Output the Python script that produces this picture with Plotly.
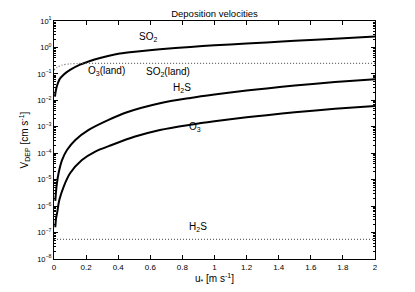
import plotly.graph_objects as go

# u* [m s^-1] and deposition velocities [cm s^-1]
u_so2 = [0.006, 0.01, 0.017, 0.025, 0.037, 0.058, 0.1, 0.162, 0.22, 0.287, 0.41, 0.52,
         0.66, 0.85, 1.0, 1.2, 1.325, 1.5, 1.75, 2.0]
v_so2 = [0.0138, 0.0209, 0.0324, 0.0457, 0.0661, 0.0912, 0.141, 0.224, 0.302, 0.398,
         0.589, 0.708, 0.851, 1.05, 1.20, 1.41, 1.55, 1.78, 2.14, 2.57]

u_h2s = [0.008, 0.013, 0.019, 0.029, 0.05, 0.081, 0.133, 0.216, 0.34, 0.45, 0.66, 0.85,
         1.0, 1.2, 1.325, 1.5, 1.75, 2.0]
v_h2s = [1.58e-6, 3.80e-6, 7.94e-6, 1.82e-5, 5.50e-5, 1.32e-4, 3.16e-4, 7.59e-4, 1.82e-3,
         3.47e-3, 7.76e-3, 1.23e-2, 1.66e-2, 2.34e-2, 2.82e-2, 3.63e-2, 4.90e-2, 6.31e-2]

u_o3 = [0.008, 0.013, 0.019, 0.033, 0.06, 0.1, 0.174, 0.257, 0.36, 0.5, 0.66, 0.85,
        1.0, 1.2, 1.325, 1.5, 1.75, 2.0]
v_o3 = [1.58e-7, 3.55e-7, 5.37e-7, 1.70e-6, 5.37e-6, 1.74e-5, 5.50e-5, 1.15e-4, 2.04e-4,
        4.17e-4, 7.59e-4, 1.20e-3, 1.62e-3, 2.29e-3, 2.75e-3, 3.55e-3, 4.79e-3, 6.17e-3]

u_o3_land = [0.0, 0.02, 0.05, 0.1, 0.15, 0.2]
v_o3_land = [0.141, 0.178, 0.214, 0.240, 0.248, 0.251]

u_so2_land = [0.2, 2.0]
v_so2_land = [0.251, 0.251]

u_h2s_land = [0.0, 2.0]
v_h2s_land = [5.5e-8, 5.5e-8]

x_ticks = [0, 0.2, 0.4, 0.6, 0.8, 1, 1.2, 1.4, 1.6, 1.8, 2]
x_ticklabels = ["0", "0.2", "0.4", "0.6", "0.8", "1", "1.2", "1.4", "1.6", "1.8", "2"]
y_ticks = [1e1, 1e0, 1e-1, 1e-2, 1e-3, 1e-4, 1e-5, 1e-6, 1e-7, 1e-8]
y_ticklabels = ["10<sup>1</sup>", "10<sup>0</sup>", "10<sup>−1</sup>", "10<sup>−2</sup>",
                "10<sup>−3</sup>", "10<sup>−4</sup>", "10<sup>−5</sup>", "10<sup>−6</sup>",
                "10<sup>−7</sup>", "10<sup>−8</sup>"]

labels = [
    ("SO<sub>2</sub>", 0.586, 0.395),
    ("O<sub>3</sub>(land)", 0.33, -0.89),
    ("SO<sub>2</sub>(land)", 0.71, -0.93),
    ("H<sub>2</sub>S", 0.80, -1.53),
    ("O<sub>3</sub>", 0.88, -3.01),
    ("H<sub>2</sub>S", 0.90, -6.79),
]

FONT = "Liberation Sans, Arial, sans-serif"
solid = dict(color="black", width=2)
dotted = dict(color="#666666", width=1.2, dash="1px,2px")

fig = go.Figure()
for x, y in [(u_so2, v_so2), (u_h2s, v_h2s), (u_o3, v_o3)]:
    fig.add_trace(go.Scatter(x=x, y=y, mode="lines",
                             line=dict(shape="spline", smoothing=0.8, **solid),
                             showlegend=False, hoverinfo="skip"))
for x, y in [(u_o3_land, v_o3_land), (u_so2_land, v_so2_land), (u_h2s_land, v_h2s_land)]:
    fig.add_trace(go.Scatter(x=x, y=y, mode="lines",
                             line=dict(shape="spline", smoothing=0.8, **dotted),
                             showlegend=False, hoverinfo="skip"))

for text, x, y in labels:
    fig.add_annotation(text=text, x=x, y=y, xref="x", yref="y", showarrow=False,
                       font=dict(family=FONT, size=10, color="black"))

# page body adds an 8px offset, so the figure is 8px smaller and margins shifted
fig.update_layout(
    width=407, height=284,
    margin=dict(l=46, r=40, t=13, b=33),
    paper_bgcolor="white", plot_bgcolor="white",
    font=dict(family=FONT, size=8, color="black"),
    title=dict(text="Deposition velocities", x=0.5, xref="paper", xanchor="center",
               y=1 - 6 / 284, yref="container", yanchor="middle",
               font=dict(family=FONT, size=9.5, color="black")),
)
fig.update_xaxes(
    range=[0, 2], tickvals=x_ticks, ticktext=x_ticklabels, automargin=False,
    ticks="inside", ticklen=4, tickcolor="black", mirror="allticks",
    showline=True, linecolor="black", linewidth=1, showgrid=False, zeroline=False,
    tickfont=dict(size=8),
    title=dict(text="u<sub>*</sub> [m s<sup>-1</sup>]", standoff=3,
               font=dict(family=FONT, size=10)),
)
fig.update_yaxes(
    type="log", range=[-8, 1], tickvals=y_ticks, ticktext=y_ticklabels, automargin=False,
    ticks="inside", ticklen=4, tickcolor="black", mirror="allticks",
    showline=True, linecolor="black", linewidth=1, showgrid=False, zeroline=False,
    tickfont=dict(size=7.5),
    minor=dict(ticks="inside", ticklen=2, tickcolor="black", showgrid=False, dtick="D1"),
    title=dict(text="V<sub>DEP</sub> [cm s<sup>-1</sup>]", standoff=6,
               font=dict(family=FONT, size=10)),
)

fig.write_html("out.html")
